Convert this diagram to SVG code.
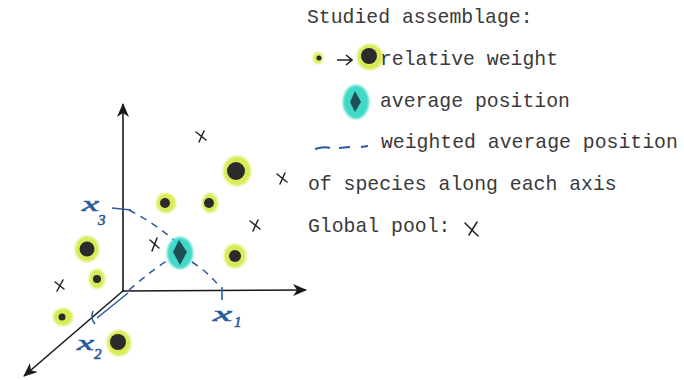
<svg xmlns="http://www.w3.org/2000/svg" width="684" height="380" viewBox="0 0 684 380">
<style>
.t{font-family:"Liberation Mono","Courier New",monospace;font-size:19.8px;fill:#3a3a3a}
.lab{font-family:"Liberation Serif","Times New Roman",serif;font-style:italic;fill:#2a5b9c;stroke:#2a5b9c;stroke-width:0.6}
.axis{stroke:#1a1a1a;stroke-width:1.6;fill:none}
.blue{stroke:#2a5b9c;stroke-width:1.6;fill:none}
.dash{stroke:#2a5b9c;stroke-width:1.5;fill:none;stroke-dasharray:7 6}
.glow{fill:#d8eb55}
.core{fill:#2b2b2b}
.teal{fill:#3fd9c8}
.cross{stroke:#222;stroke-width:1.5;fill:none;stroke-linecap:round}
</style>
<defs>
<marker id="ah" markerWidth="14" markerHeight="12" refX="13" refY="6" orient="auto" markerUnits="userSpaceOnUse">
<path d="M0,0 L14,6 L0,12 L4,6 z" fill="#1a1a1a"/>
</marker>
<filter id="soft" x="-30%" y="-30%" width="160%" height="160%"><feGaussianBlur stdDeviation="0.8"/></filter>
</defs>
<rect width="684" height="380" fill="#ffffff"/>

<g id="connectors">
<line class="axis" x1="123" y1="292" x2="123" y2="104" marker-end="url(#ah)"/>
<line class="axis" x1="122" y1="291" x2="306" y2="290" marker-end="url(#ah)"/>
<line class="axis" x1="124" y1="290" x2="24" y2="376" marker-end="url(#ah)"/>
<path class="blue" d="M97,318 L128,293"/>
<path class="blue" d="M112,208 L131,210"/>
<path class="blue" d="M222,287 L222,300"/>
<path class="blue" d="M93,311 Q90,318 95,324"/>
<path class="dash" d="M129,210 Q158,225 178,244"/>
<path class="dash" d="M192,262 Q208,272 220,287"/>
<path class="dash" d="M129,290 Q152,270 174,256"/>
</g>

<g id="label-x3"><text class="lab" x="82" y="211" font-size="22" textLength="17" lengthAdjust="spacingAndGlyphs">x</text><text class="lab" x="98" y="225" font-size="15">3</text></g>
<g id="label-x1"><text class="lab" x="213" y="321" font-size="22" textLength="19" lengthAdjust="spacingAndGlyphs">x</text><text class="lab" x="234" y="327" font-size="15">1</text></g>
<g id="label-x2"><text class="lab" x="77" y="350" font-size="22" textLength="17" lengthAdjust="spacingAndGlyphs">x</text><text class="lab" x="94" y="359" font-size="15">2</text></g>

<g id="species-1"><ellipse class="glow" cx="237" cy="171" rx="14" ry="15" filter="url(#soft)"/><circle class="core" cx="236" cy="171" r="9"/></g>
<g id="species-2"><ellipse class="glow" cx="166" cy="203" rx="10" ry="10" filter="url(#soft)"/><circle class="core" cx="165" cy="203" r="5"/></g>
<g id="species-3"><ellipse class="glow" cx="210" cy="203" rx="8" ry="10" filter="url(#soft)"/><circle class="core" cx="209" cy="203" r="5"/></g>
<g id="species-4"><ellipse class="glow" cx="235" cy="256" rx="11" ry="12" filter="url(#soft)"/><circle class="core" cx="235" cy="256" r="6"/></g>
<g id="species-5"><ellipse class="glow" cx="87" cy="249" rx="12" ry="13" filter="url(#soft)"/><circle class="core" cx="87" cy="249" r="7.5"/></g>
<g id="species-6"><ellipse class="glow" cx="97" cy="279" rx="8" ry="10" filter="url(#soft)"/><circle class="core" cx="97" cy="279" r="4"/></g>
<g id="species-7"><ellipse class="glow" cx="63" cy="317" rx="10" ry="9" filter="url(#soft)"/><circle class="core" cx="62" cy="317" r="3.5"/></g>
<g id="species-8"><ellipse class="glow" cx="119" cy="343" rx="12" ry="13" filter="url(#soft)"/><circle class="core" cx="118" cy="342" r="8"/></g>

<g id="centroid"><ellipse class="teal" cx="180" cy="253" rx="13" ry="16" filter="url(#soft)"/><path d="M179,240 L187,252 L180,265 L173,252 z" fill="#1f4f55"/></g>

<g id="pool">
<path class="cross" d="M196,132 L206,140 M204,131 L199,142"/>
<path class="cross" d="M277,174 L287,182 M285,173 L280,184"/>
<path class="cross" d="M250,221 L260,229 M258,220 L253,231"/>
<path class="cross" d="M150,240 L159,248 M157,238 L152,251"/>
<path class="cross" d="M55,282 L64,289 M63,280 L57,291"/>
</g>

<g id="legend">
<text class="t" x="307" y="23">Studied assemblage:</text>
<ellipse class="glow" cx="318" cy="58" rx="5" ry="6" filter="url(#soft)"/><circle class="core" cx="319" cy="58" r="2.5"/>
<path d="M337,60 L352,60 M346,55 L352,60 L346,65" stroke="#222" stroke-width="1.6" fill="none"/>
<ellipse class="glow" cx="370" cy="57" rx="13" ry="13" filter="url(#soft)"/><circle class="core" cx="369" cy="56" r="8"/>
<text class="t" x="380" y="65">relative weight</text>
<ellipse class="teal" cx="356" cy="102" rx="13" ry="17" filter="url(#soft)"/><path d="M355,91 L361,102 L355,112 L350,102 z" fill="#1f4f55"/>
<text class="t" x="380" y="107">average position</text>
<path d="M315,149 Q324,146 330,148 M339,148 L350,147 M361,147 L368,146" stroke="#2a5b9c" stroke-width="2" fill="none"/>
<text class="t" x="381" y="148">weighted average position</text>
<text class="t" x="308" y="190">of species along each axis</text>
<text class="t" x="308" y="232">Global pool:</text>
<path class="cross" d="M465,223 L478,236 M477,222 L469,235"/>
</g>
</svg>
